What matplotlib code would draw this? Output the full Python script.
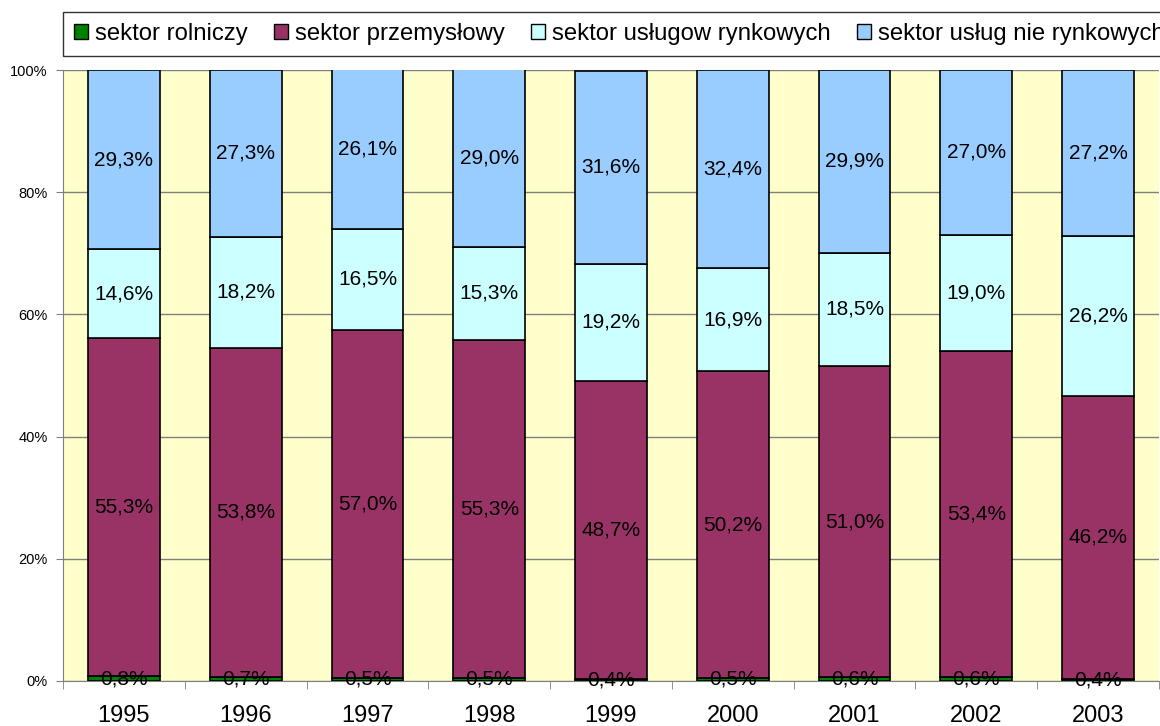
import numpy as np
import matplotlib.pyplot as plt
from matplotlib.patches import Patch

years = ['1995', '1996', '1997', '1998', '1999', '2000', '2001', '2002', '2003']
rolniczy = [0.8, 0.7, 0.5, 0.5, 0.4, 0.5, 0.6, 0.6, 0.4]
przemyslowy = [55.3, 53.8, 57.0, 55.3, 48.7, 50.2, 51.0, 53.4, 46.2]
uslugi_rynkowe = [14.6, 18.2, 16.5, 15.3, 19.2, 16.9, 18.5, 19.0, 26.2]
uslugi_nierynkowe = [29.3, 27.3, 26.1, 29.0, 31.6, 32.4, 29.9, 27.0, 27.2]

series = [
    ('sektor rolniczy', rolniczy, '#008000'),
    ('sektor przemysłowy', przemyslowy, '#993366'),
    ('sektor usługow rynkowych', uslugi_rynkowe, '#CCFFFF'),
    ('sektor usług nie rynkowych', uslugi_nierynkowe, '#99CCFF'),
]

plt.rcParams['font.family'] = ['Liberation Sans', 'DejaVu Sans']

fig = plt.figure(figsize=(11.6, 7.26), dpi=100)
ax = fig.add_axes([63 / 1160, 45 / 726, 1096 / 1160, 611 / 726])
ax.set_facecolor('#FFFFCC')

x = np.arange(len(years))
bottom = np.zeros(len(years))
for name, vals, color in series:
    vals = np.array(vals)
    ax.bar(x, vals, 0.59, bottom=bottom, color=color, edgecolor='black', linewidth=1.2, zorder=3)
    for xi, b, v in zip(x, bottom, vals):
        ax.text(xi, b + v / 2, f'{v:.1f}%'.replace('.', ','), ha='center', va='center',
                fontsize=15, color='black', zorder=4)
    bottom += vals

ax.set_xlim(-0.5, len(years) - 0.5)
ax.set_ylim(0, 100)
ax.set_yticks(np.arange(0, 101, 20))
ax.set_yticklabels([f'{v}%' for v in range(0, 101, 20)], fontsize=10.5)
ax.yaxis.grid(True, color='#808080', linewidth=1, zorder=0)
ax.tick_params(axis='y', length=5, color='#808080', pad=6)

ax.set_xticks(x)
ax.set_xticklabels(years, fontsize=17)
ax.set_xticks(np.arange(-0.5, len(years)), minor=True)
ax.tick_params(axis='x', which='major', length=0, pad=17)
ax.tick_params(axis='x', which='minor', length=6, color='#808080')

for side in ['top', 'right']:
    ax.spines[side].set_visible(False)
ax.spines['left'].set_color('#808080')
ax.spines['bottom'].set_color('#808080')

handles = [Patch(facecolor=c, edgecolor='black', label=n) for n, _, c in series]
leg = fig.legend(handles=handles, loc='upper left', bbox_to_anchor=(63 / 1160, 1 - 12 / 726),
                 ncol=4, fontsize=17.2, frameon=True, fancybox=False, edgecolor='black',
                 handlelength=0.58, handleheight=0.58, handletextpad=0.3, columnspacing=1.1,
                 borderpad=0.45, borderaxespad=0)
leg.get_frame().set_linewidth(1.0)

fig.savefig('out.png', dpi=100, facecolor='white')
